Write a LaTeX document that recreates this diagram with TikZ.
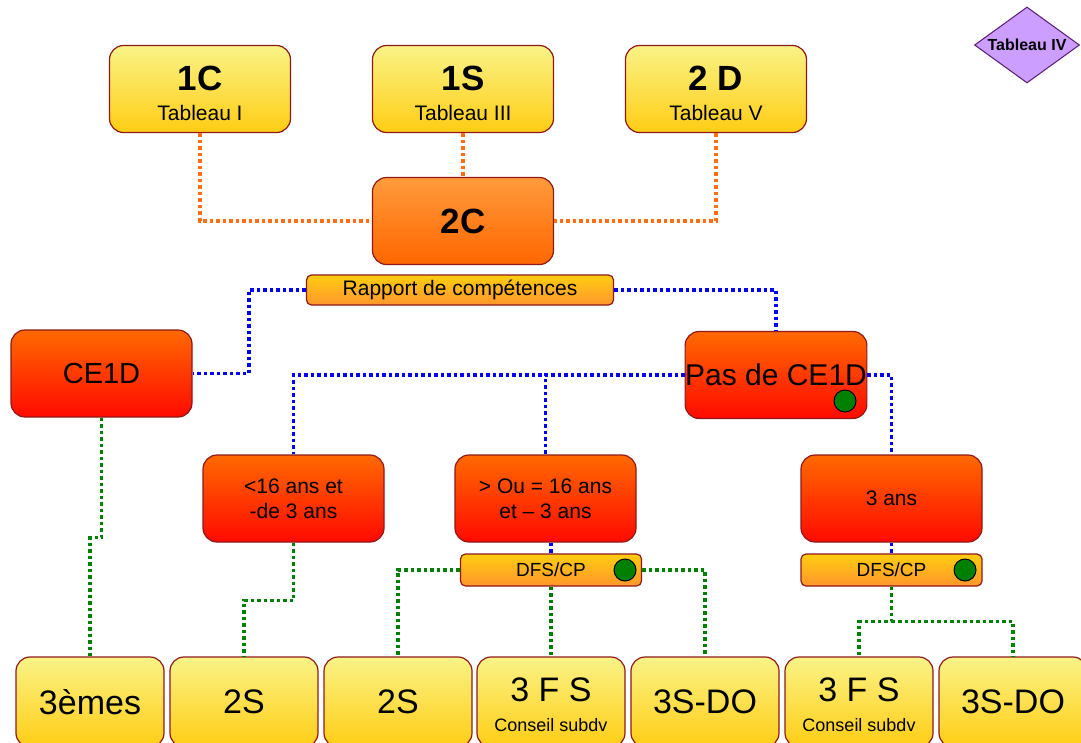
\documentclass[tikz,border=0pt]{standalone}
\usepackage{fontspec}
\setmainfont{Liberation Sans}
\usetikzlibrary{shapes.geometric}

\newlength{\du}
\setlength{\du}{1pt}

\definecolor{boxline}{rgb}{0.560000, 0.100000, 0.100000}
\definecolor{ylwtop}{rgb}{0.980000, 0.953000, 0.530000}
\definecolor{ylwbot}{rgb}{1.000000, 0.804000, 0.080000}
\definecolor{orgtop}{rgb}{1.000000, 0.608000, 0.235000}
\definecolor{orgbot}{rgb}{1.000000, 0.400000, 0.000000}
\definecolor{redtop}{rgb}{1.000000, 0.412000, 0.000000}
\definecolor{redbot}{rgb}{1.000000, 0.040000, 0.000000}
\definecolor{bartop}{rgb}{1.000000, 0.804000, 0.060000}
\definecolor{barbot}{rgb}{1.000000, 0.588000, 0.176000}
\definecolor{lavender}{rgb}{0.800000, 0.620000, 1.000000}
\definecolor{diamline}{rgb}{0.350000, 0.100000, 0.450000}
\definecolor{dotorange}{rgb}{1.000000, 0.431000, 0.078000}
\definecolor{dotblue}{rgb}{0.000000, 0.000000, 1.000000}
\definecolor{dotgreen}{rgb}{0.000000, 0.502000, 0.000000}

\tikzset{
  box/.style={draw=boxline, line width=1.2\du, rounded corners=14\du,
    minimum width=181\du, minimum height=87\du, inner sep=0pt, align=center,
    font=\fontsize{21}{25}\selectfont},
  yellowbox/.style={box, top color=ylwtop, bottom color=ylwbot},
  orangebox/.style={box, top color=orgtop, bottom color=orgbot},
  redbox/.style={box, top color=redtop, bottom color=redbot},
  bottombox/.style={yellowbox, minimum width=148\du, minimum height=90\du,
    font=\fontsize{34}{34}\selectfont},
  bar/.style={box, rounded corners=5\du, minimum height=32\du,
    top color=bartop, bottom color=barbot},
  dotline/.style={line width=3.5\du, dash pattern=on 3.5\du off 3\du},
  orangeline/.style={dotline, draw=dotorange},
  blueline/.style={dotline, draw=dotblue},
  greenline/.style={dotline, draw=dotgreen},
  greendot/.style={fill=dotgreen, draw=black, line width=1\du},
}

\begin{document}
\begin{tikzpicture}
\pgftransformxscale{1.000000}
\pgftransformyscale{-1.000000}
\useasboundingbox (0\du,0\du) rectangle (1081\du,742\du);
\clip (0\du,0\du) rectangle (1081\du,742\du);
\fill[white] (0\du,0\du) rectangle (1081\du,742\du);
% first row
\node[yellowbox] (c1) at (200\du,89\du) {\rule{0pt}{33\du}{\fontsize{35}{28}\selectfont\bfseries 1C}\\[5\du]Tableau I};
\node[yellowbox] (s1) at (463\du,89\du) {\rule{0pt}{33\du}{\fontsize{35}{28}\selectfont\bfseries 1S}\\[5\du]Tableau III};
\node[yellowbox] (d2) at (716\du,89\du) {\rule{0pt}{33\du}{\fontsize{35}{28}\selectfont\bfseries 2 D}\\[5\du]Tableau V};
\node[diamond, draw=diamline, fill=lavender, line width=1\du, minimum width=105\du,
  minimum height=76\du, inner sep=0pt, font=\fontsize{16}{16}\selectfont\bfseries]
  (tab4) at (1027\du,45\du) {\makebox[0pt]{Tableau IV}};
% second row
\node[orangebox] (c2) at (463\du,221\du) {\fontsize{35}{35}\selectfont\bfseries 2C};
\node[bar, minimum width=307\du, minimum height=30\du] (rap) at (460\du,290\du) {Rapport de compétences};
\node[redbox, font=\fontsize{29}{29}\selectfont] (ce) at (101.5\du,373.5\du) {CE1D};
\node[redbox, font=\fontsize{30}{30}\selectfont] (pas) at (776\du,375\du) {Pas de CE1D};
\filldraw[greendot] (845\du,401\du) circle (11\du);
% third row
\node[redbox] (lt) at (293.5\du,498.5\du) {<16 ans et\\-de 3 ans};
\node[redbox] (ge) at (545.5\du,498.5\du) {> Ou = 16 ans\\et -- 3 ans};
\node[redbox] (tr) at (891.5\du,498.5\du) {3 ans};
\node[bar, font=\fontsize{19}{19}\selectfont] (dfsa) at (551\du,570\du) {DFS/CP};
\node[bar, font=\fontsize{19}{19}\selectfont] (dfsb) at (891.5\du,570\du) {DFS/CP};
\filldraw[greendot] (625\du,570\du) circle (11\du);
\filldraw[greendot] (965\du,570\du) circle (11\du);
% bottom row
\node[bottombox] (b1) at (90\du,702\du) {3èmes};
\node[bottombox] (b2) at (244\du,702\du) {2S};
\node[bottombox] (b3) at (398\du,702\du) {2S};
\node[bottombox] (b4) at (551\du,702\du) {\rule{0pt}{30\du}3 F S\\[-4\du]{\fontsize{18}{18}\selectfont Conseil subdv}};
\node[bottombox] (b5) at (705\du,702\du) {3S-DO};
\node[bottombox] (b6) at (859\du,702\du) {\rule{0pt}{30\du}3 F S\\[-4\du]{\fontsize{18}{18}\selectfont Conseil subdv}};
\node[bottombox] (b7) at (1013\du,702\du) {3S-DO};
% orange links
\draw[orangeline] (c1.south) |- (c2.west);
\draw[orangeline] (s1.south) -- (c2.north);
\draw[orangeline] (d2.south) |- (c2.east);
% blue links
\draw[blueline] (rap.west) -- (249\du,290\du) |- (ce.east);
\draw[blueline] (rap.east) -| (pas.north);
\draw[blueline] (pas.west) -| (lt.north);
\draw[blueline] (pas.west) -| (ge.north);
\draw[blueline] (pas.east) -| (tr.north);
\draw[blueline] (ge.south -| dfsa.north) -- (dfsa.north);
\draw[blueline] (tr.south) -- (dfsb.north);
% green links
\draw[greenline] (ce.south) -- ++(0,120\du) -| (b1.north);
\draw[greenline] (lt.south) -- ++(0,58\du) -| (b2.north);
\draw[greenline] (dfsa.west) -| (b3.north);
\draw[greenline] (dfsa.south) -- (b4.north);
\draw[greenline] (dfsa.east) -| (b5.north);
\draw[greenline] (dfsb.south) -- ++(0,35\du) coordinate (split) -| (b6.north);
\draw[greenline] (split) -| (b7.north);
\end{tikzpicture}
\end{document}
